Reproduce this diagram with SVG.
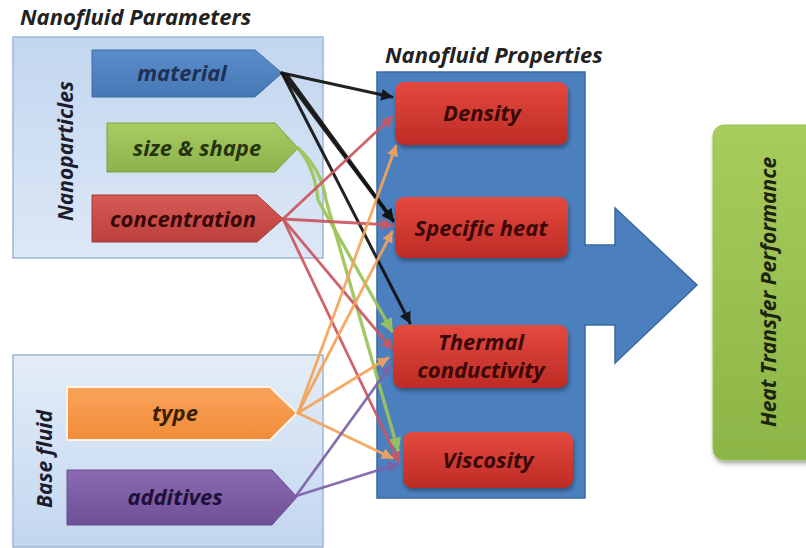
<svg xmlns="http://www.w3.org/2000/svg" width="806" height="548" viewBox="0 0 806 548">
<style>
.t{font-family:"Open Sans","Liberation Sans",Arial,sans-serif;font-weight:bold;font-style:italic;font-size:22px}
.v{font-size:21px}
.title{fill:#222}
.lbl{fill:#1c1c2c;text-anchor:middle}
.red{fill:#3a0808;text-anchor:middle}
.c{fill:none;stroke-width:2.8;stroke-linecap:round;opacity:0.92}
.k{stroke:#111;stroke-width:3}
.g{stroke:#9cc45c;stroke-width:3.4}
.r{stroke:#cc5660}
.o{stroke:#f5a35a}
.p{stroke:#7d62a8}
</style>
<defs>
<linearGradient id="bgbox" x1="0" y1="0" x2="0" y2="1"><stop offset="0" stop-color="#c2d6f0"/><stop offset="1" stop-color="#dde8f6"/></linearGradient>
<linearGradient id="bgbox2" x1="0" y1="0" x2="0" y2="1"><stop offset="0" stop-color="#e4edf8"/><stop offset="1" stop-color="#c2d6f0"/></linearGradient>
<linearGradient id="redg" x1="0" y1="0" x2="0" y2="1"><stop offset="0" stop-color="#e4493f"/><stop offset="1" stop-color="#bd2c25"/></linearGradient>
<linearGradient id="greeng" x1="0" y1="0" x2="0" y2="1"><stop offset="0" stop-color="#a8cc5c"/><stop offset="1" stop-color="#8cb546"/></linearGradient>
<linearGradient id="blueg" x1="0" y1="0" x2="0" y2="1"><stop offset="0" stop-color="#5a8ecb"/><stop offset="1" stop-color="#4677b5"/></linearGradient>
<linearGradient id="lgg" x1="0" y1="0" x2="0" y2="1"><stop offset="0" stop-color="#a9cb62"/><stop offset="1" stop-color="#8db34c"/></linearGradient>
<linearGradient id="rdg" x1="0" y1="0" x2="0" y2="1"><stop offset="0" stop-color="#d65a55"/><stop offset="1" stop-color="#bb403c"/></linearGradient>
<linearGradient id="org" x1="0" y1="0" x2="0" y2="1"><stop offset="0" stop-color="#fba35a"/><stop offset="1" stop-color="#f08c38"/></linearGradient>
<linearGradient id="pug" x1="0" y1="0" x2="0" y2="1"><stop offset="0" stop-color="#8a6bb0"/><stop offset="1" stop-color="#6f4f96"/></linearGradient>
<filter id="sh" x="-10%" y="-10%" width="125%" height="130%"><feDropShadow dx="1" dy="3" stdDeviation="2" flood-color="#000" flood-opacity="0.35"/></filter>
<marker id="mk" viewBox="0 0 10 10" refX="9" refY="5" markerWidth="4" markerHeight="4" orient="auto"><path d="M0,0 L10,5 L0,10 z" fill="#111"/></marker>
<marker id="mg" viewBox="0 0 10 10" refX="9" refY="5" markerWidth="4" markerHeight="4" orient="auto"><path d="M0,0 L10,5 L0,10 z" fill="#9cc45c"/></marker>
<marker id="mr" viewBox="0 0 10 10" refX="9" refY="5" markerWidth="4" markerHeight="4" orient="auto"><path d="M0,0 L10,5 L0,10 z" fill="#cc5660"/></marker>
<marker id="mo" viewBox="0 0 10 10" refX="9" refY="5" markerWidth="4" markerHeight="4" orient="auto"><path d="M0,0 L10,5 L0,10 z" fill="#f5a35a"/></marker>
<marker id="mp" viewBox="0 0 10 10" refX="9" refY="5" markerWidth="4" markerHeight="4" orient="auto"><path d="M0,0 L10,5 L0,10 z" fill="#7d62a8"/></marker>
</defs>
<rect width="806" height="548" fill="#fff"/>

<g id="nanoparticles-group">
<text class="t title" x="20" y="25">Nanofluid Parameters</text>
<rect x="13" y="37" width="310" height="221" fill="url(#bgbox)" stroke="#9db6d6" stroke-width="1.5"/>
<text class="t v lbl" transform="translate(73,151) rotate(-90)">Nanoparticles</text>
</g>
<g id="basefluid-group">
<rect x="13" y="355" width="310" height="192" fill="url(#bgbox2)" stroke="#9db6d6" stroke-width="1.5"/>
<text class="t v lbl" transform="translate(52,459) rotate(-90)">Base fluid</text>
</g>

<g id="material">
<polygon points="92,50 255,50 282,73 255,97 92,97" fill="url(#blueg)" stroke="#3d6ca6" stroke-width="1"/>
<text class="t lbl" x="182" y="81" style="fill:#1f2f55">material</text>
</g>
<g id="size-shape">
<polygon points="107,123 275,123 298,148 275,172 107,172" fill="url(#lgg)" stroke="#7da040" stroke-width="1"/>
<text class="t lbl" x="197" y="156" style="fill:#263510">size &amp; shape</text>
</g>
<g id="concentration">
<polygon points="92,195 257,195 283,219 257,242 92,242" fill="url(#rdg)" stroke="#a33834" stroke-width="1"/>
<text class="t lbl" x="183" y="227" style="fill:#380808">concentration</text>
</g>
<g id="type">
<polygon points="67,387 270,387 297,413 270,440 67,440" fill="url(#org)" stroke="#fff3e6" stroke-width="2"/>
<text class="t lbl" x="175" y="421" style="fill:#3a1e00">type</text>
</g>
<g id="additives">
<polygon points="67,470 272,470 297,497 272,525 67,525" fill="url(#pug)" stroke="#6a4d90" stroke-width="1"/>
<text class="t lbl" x="175" y="505" style="fill:#1e1038">additives</text>
</g>

<g id="properties-panel">
<text class="t title" x="385" y="63">Nanofluid Properties</text>
<polygon points="377,72 585,72 585,245 615,245 615,208 697,285 615,363 615,325 585,325 585,498 377,498" fill="#4b7fbe" stroke="#3b69a3" stroke-width="1.5"/>
</g>

<g id="connectors">
<line class="c k" x1="282" y1="73" x2="392" y2="97" marker-end="url(#mk)"/>
<line class="c k" x1="282" y1="73" x2="393" y2="221" marker-end="url(#mk)"/>
<line class="c k" x1="287" y1="75" x2="393" y2="220" marker-end="url(#mk)"/>
<line class="c k" x1="282" y1="73" x2="410" y2="323" marker-end="url(#mk)"/>

<path class="c g" d="M298,148 Q315,168 318,200 L392,331" marker-end="url(#mg)"/>
<path class="c g" d="M298,148 Q322,170 326,200 L398,450" marker-end="url(#mg)"/>

<line class="c r" x1="283" y1="219" x2="392" y2="117" marker-end="url(#mr)"/>
<line class="c r" x1="283" y1="219" x2="392" y2="225" marker-end="url(#mr)"/>
<line class="c r" x1="283" y1="219" x2="392" y2="349" marker-end="url(#mr)"/>
<line class="c r" x1="283" y1="219" x2="399" y2="462" marker-end="url(#mr)"/>

<line class="c o" x1="298" y1="413" x2="396" y2="146" marker-end="url(#mo)"/>
<line class="c o" x1="298" y1="413" x2="392" y2="232" marker-end="url(#mo)"/>
<line class="c o" x1="298" y1="413" x2="388" y2="358" marker-end="url(#mo)"/>
<line class="c o" x1="298" y1="413" x2="392" y2="458" marker-end="url(#mo)"/>

<line class="c p" x1="296" y1="496" x2="391" y2="365" marker-end="url(#mp)"/>
<line class="c p" x1="296" y1="496" x2="398" y2="464" marker-end="url(#mp)"/>
</g>

<g id="density">
<rect x="395" y="82" width="173" height="63" rx="9" fill="url(#redg)" filter="url(#sh)"/>
<text class="t red" x="482" y="121">Density</text>
</g>
<g id="specific-heat">
<rect x="395" y="197" width="173" height="61" rx="9" fill="url(#redg)" filter="url(#sh)"/>
<text class="t red" x="481" y="236">Specific heat</text>
</g>
<g id="thermal-conductivity">
<rect x="393" y="325" width="175" height="63" rx="9" fill="url(#redg)" filter="url(#sh)"/>
<text class="t red" x="481" y="350">Thermal</text>
<text class="t red" x="481" y="378">conductivity</text>
</g>
<g id="viscosity">
<rect x="403" y="432" width="170" height="56" rx="9" fill="url(#redg)" filter="url(#sh)"/>
<text class="t red" x="488" y="468">Viscosity</text>
</g>

<g id="heat-transfer">
<rect x="713" y="125" width="110" height="335" rx="11" fill="url(#greeng)" stroke="#9cc25a" stroke-width="1" filter="url(#sh)"/>
<text class="t v lbl" transform="translate(776,292) rotate(-90)" style="fill:#1c2410">Heat Transfer Performance</text>
</g>
</svg>
